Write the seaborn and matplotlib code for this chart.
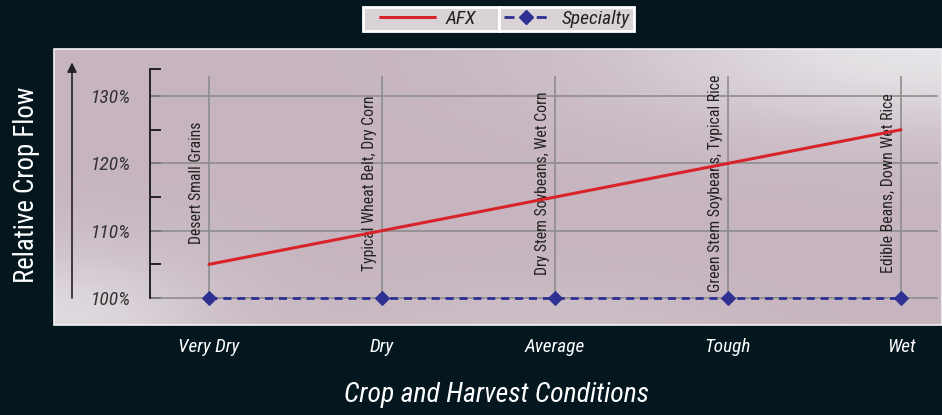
import numpy as np
import pandas as pd
import matplotlib
matplotlib.use("Agg")
import matplotlib.pyplot as plt
import seaborn as sns
from matplotlib import font_manager as fm
from matplotlib.patches import Rectangle
from matplotlib.lines import Line2D
from matplotlib.legend_handler import HandlerLine2D

# ---- data ----
conditions = ["Very Dry", "Dry", "Average", "Tough", "Wet"]
crops = ["Desert Small Grains", "Typical Wheat Belt, Dry Corn",
         "Dry Stem Soybeans, Wet Corn", "Green Stem Soybeans, Typical Rice",
         "Edible Beans, Down Wet Rice"]
afx = [105, 110, 115, 120, 125]
specialty = [100, 100, 100, 100, 100]
y_ticks = [100, 110, 120, 130]
y_tick_labels = ["100%", "110%", "120%", "130%"]

sns.set_theme(style="white")
available = {f.name for f in fm.fontManager.ttflist}
cands = ["Roboto Condensed", "Archivo Narrow", "PT Sans Narrow", "Asap Condensed",
         "Liberation Sans Narrow"]
chosen = [c for c in cands if c in available]
NARROW = (chosen[:1] if chosen else []) + ["DejaVu Sans"]
plt.rcParams["font.family"] = NARROW

W, H = 942, 415
BG = "#04171f"
RED = "#d9232b"
BLUE = "#2e3192"
fig = plt.figure(figsize=(W / 100, H / 100), dpi=100, facecolor=BG)

# panel axes (pixel geometry)
px0, px1, py0, py1 = 54, 942, 49, 325
ax = fig.add_axes([px0 / W, 1 - py1 / H, (px1 - px0) / W, (py1 - py0) / H])
xpix0, dxpix = 209, 173.0
ypix100, dypix = 298.0, 6.73
ax.set_xlim((px0 - xpix0) / dxpix, (px1 - xpix0) / dxpix)
ax.set_ylim(100 + (ypix100 - py1) / dypix, 100 + (ypix100 - py0) / dypix)

# gradient background
nx, ny = 300, 120
u = np.linspace(0, 1, nx)[None, :]
v = np.linspace(1, 0, ny)[:, None]
w = 0.95 * np.exp(-((u - 1.0) ** 2 + ((v - 1.0) * 1.2) ** 2) / 0.12) \
    + 0.75 * np.exp(-((u * 1.6) ** 2 + (v) ** 2) / 0.08) \
    + 0.25 * np.exp(-((u - 0.55) ** 2 + (v + 0.1) ** 2) / 0.05)
w = np.clip(w, 0, 1)[..., None]
mauve = np.array([0xc6, 0xb5, 0xbf]) / 255
light = np.array([0xe8, 0xe7, 0xea]) / 255
img = mauve * (1 - w) + light * w
ax.imshow(img, extent=[0, 1, 0, 1], transform=ax.transAxes, aspect="auto", zorder=0)
ax.add_patch(Rectangle((0, 0), 1, 1, transform=ax.transAxes, fill=False,
                       edgecolor="#f4f2f4", lw=1.2, zorder=1, clip_on=False))

xs = np.arange(len(conditions))
spine_x = (150 - xpix0) / dxpix
grid_right = (938 - xpix0) / dxpix

# grid lines
ax.hlines(y_ticks, spine_x, grid_right, color="#8d8d8d", lw=1.2, zorder=2)
ax.vlines(xs, 100, 133, color="#8d8d8d", lw=1.2, zorder=2)

# data lines
DASH = (0, (2.9, 2.1))
df_afx = pd.DataFrame({"x": xs, "y": afx})
df_sp = pd.DataFrame({"x": xs, "y": specialty})
sns.lineplot(data=df_afx, x="x", y="y", ax=ax, color=RED, lw=2.2, zorder=4)
sns.lineplot(data=df_sp, x="x", y="y", ax=ax, color=BLUE, lw=2.0, zorder=4,
             linestyle=DASH, marker="D", markersize=7.6,
             markeredgecolor=BLUE, markerfacecolor=BLUE)

# crop annotations
for xi, txt in zip(xs, crops):
    ax.text(xi - 0.03, 117.1, txt, rotation=90, ha="right", va="center",
            fontsize=11.3, color="#222222", zorder=3)

# y axis
for s in ["top", "right", "bottom"]:
    ax.spines[s].set_visible(False)
ax.spines["left"].set_position(("data", spine_x))
ax.spines["left"].set_bounds(100, 134)
ax.spines["left"].set_color("#222222")
ax.spines["left"].set_linewidth(1.4)
ax.spines["left"].set_zorder(3)
ax.set_yticks(y_ticks)
ax.set_yticklabels(y_tick_labels)
ax.set_yticks([105, 115, 125, 134], minor=True)
ax.tick_params(axis="y", which="both", direction="in", length=8, width=1.4,
               color="#222222", left=True, pad=13.5)
ax.tick_params(axis="y", which="major", labelsize=14, labelcolor="#333333")
for lab in ax.get_yticklabels():
    lab.set_fontstyle("italic")

# x axis
ax.set_xticks(xs)
ax.set_xticklabels(conditions)
ax.tick_params(axis="x", length=0, pad=9, labelsize=13.9, labelcolor="white")
for lab in ax.get_xticklabels():
    lab.set_fontstyle("italic")
ax.set_xlabel("")
ax.set_ylabel("")

# arrow
arrow_x = (72 - xpix0) / dxpix
ax.annotate("", xy=(arrow_x, 135.0), xytext=(arrow_x, 100),
            arrowprops=dict(arrowstyle="-|>", color="#222222", lw=1.2,
                            mutation_scale=14, shrinkA=0, shrinkB=0), zorder=3)

# titles
fig.text(497 / W, 1 - 395 / H, "Crop and Harvest Conditions", color="white",
         fontsize=20, fontstyle="italic", ha="center", va="center")
fig.text(27 / W, 1 - 185 / H, "Relative Crop Flow", color="white",
         fontsize=19.4, rotation=90, ha="center", va="center")

# legend: two adjacent framed cells
FS = 14
h_afx = Line2D([], [], color=RED, lw=2.2)
h_sp = Line2D([], [], color=BLUE, lw=2.0, linestyle=(0, (3.6, 2.2)),
              marker="D", markersize=7.6)
cells = [
    (h_afx, "AFX", 363, 499, 0.74, 3.57, 0.52),
    (h_sp, "Specialty", 499, 634, 0.12, 2.34, 0.72),
]
for h, lab, xa, xb, xpad, hl, tp in cells:
    lg = fig.legend([h], [lab], loc="center", mode="expand",
                    bbox_to_anchor=(xa / W, 1 - 33 / H, (xb - xa) / W, 28 / H),
                    borderaxespad=0, borderpad=0.14, frameon=True, fancybox=False,
                    facecolor="#d9d3d7", edgecolor="white", framealpha=1,
                    prop=dict(family=NARROW, style="italic", size=FS),
                    handlelength=hl, handletextpad=tp,
                    handler_map={h: HandlerLine2D(xpad=xpad)})
    lg.get_frame().set_linewidth(2.0)
    for t in lg.get_texts():
        t.set_color("#222222")

fig.savefig("out.png", dpi=100, facecolor=BG)
